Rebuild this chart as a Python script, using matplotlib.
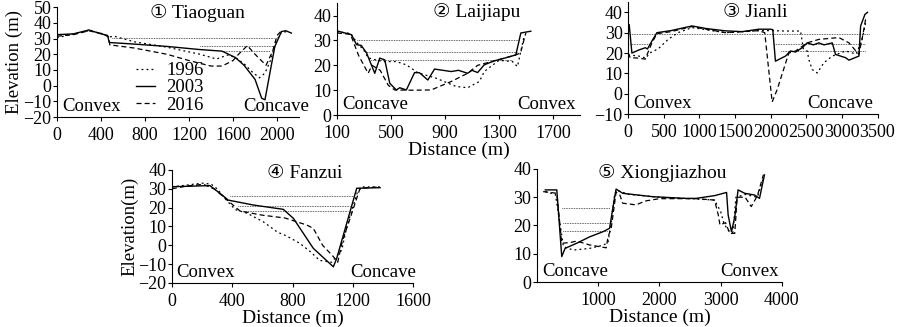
import matplotlib
matplotlib.use("Agg")
import matplotlib.pyplot as plt
import numpy as np

plt.rcParams["font.family"] = ["Liberation Serif", "DejaVu Sans"]
plt.rcParams["font.size"] = 13.5

# ---- data ----
years = ["1996", "2003", "2016"]

# 1 Tiaoguan
tiao_x96 = [0, 150, 290, 420, 470, 520, 700, 1000, 1300, 1450, 1550, 1620, 1700, 1770, 1840, 1890, 1940, 1990, 2040, 2100]
tiao_y96 = [30.5, 33, 35, 33, 31, 31.5, 28, 24.5, 20, 17, 19.5, 18, 14, 9, 5, 8, 16, 28, 34, 34.5]
tiao_x03 = [0, 150, 290, 400, 460, 475, 700, 1000, 1300, 1500, 1620, 1700, 1800, 1860, 1890, 1940, 1980, 2040, 2080, 2130]
tiao_y03 = [32.5, 33, 35.5, 33, 32, 27.5, 26.5, 25, 23, 22, 18, 13, 4, -8, -9, 10, 25, 34.5, 35, 33.5]
tiao_x16 = [0, 150, 290, 420, 470, 480, 700, 1000, 1200, 1400, 1500, 1600, 1650, 1730, 1800, 1900, 1960, 2000, 2040]
tiao_y16 = [31.5, 32.5, 35, 33, 31, 26, 24, 20, 16, 12.5, 12.5, 16, 20, 25.5, 20, 13, 22, 32, 35]
tiao_wl = [30.5, 25.5, 22]
tiao_wl_from = [500, 1300, 1500]
tiao_wl_to = [1970, 1970, 1940]

# 2 Laijiapu
lai_x96 = [100, 200, 250, 300, 331, 400, 454, 540, 614, 700, 835, 983, 1068, 1155, 1191, 1300, 1400, 1437, 1486]
lai_y96 = [33.5, 32.8, 29, 26, 23, 22, 21.5, 21.5, 20.2, 17, 14.8, 11.5, 11, 13.5, 17.5, 22, 21.5, 19.5, 31.6]
lai_x03 = [110, 208, 245, 280, 319, 380, 417, 454, 491, 540, 565, 614, 675, 712, 773, 823, 946, 1000, 1068, 1100,
           1142, 1191, 1265, 1363, 1425, 1462, 1536]
lai_y03 = [33.7, 32.3, 28.3, 28, 25, 16.8, 22.9, 22.2, 12.8, 10.1, 11, 10.1, 17.1, 17, 14.1, 18.5, 17.5, 18, 16.8, 18,
           17.1, 20.2, 21.8, 23.2, 24.2, 33, 33.7]
lai_x16 = [100, 200, 260, 331, 360, 420, 480, 528, 650, 798, 946, 1068, 1142, 1314, 1425, 1460, 1499]
lai_y16 = [33, 32.5, 24, 16.8, 20, 18, 12, 10.1, 10, 10.1, 13.5, 16.8, 20, 22.5, 24.2, 25, 33]
lai_wl = [30.3, 25.2, 22.2]
lai_wl_from = [245, 306, 350]
lai_wl_to = [1450, 1430, 1400]

# 3 Jianli
jian_x96 = [0, 30, 150, 250, 300, 420, 560, 700, 895, 1364, 1833, 1997, 2208, 2419, 2460, 2513, 2536, 2583, 2654,
            2747, 2865, 3052, 3200, 3280, 3340]
jian_y96 = [19, 19, 18.5, 17.5, 20, 22, 26.7, 30, 32.5, 30, 31, 31, 30.8, 30.8, 22, 21, 16.8, 11.9, 10.2,
            15.2, 18.5, 21, 19.5, 26, 36]
jian_x03 = [0, 14, 52, 150, 239, 270, 333, 403, 600, 895, 1100, 1364, 1600, 1833, 1997, 2030, 2067, 2208, 2278,
            2350, 2443, 2513, 2600, 2677, 2750, 2865, 2911, 3052, 3099, 3239, 3263, 3324, 3360]
jian_y03 = [30, 34, 20, 21.5, 22.6, 22, 25.9, 30, 31, 33.3, 32, 30.9, 30.5, 31.7, 31.7, 31.5, 16, 18.5, 21,
            20.5, 22.6, 25, 24, 25, 24, 25, 19.3, 17.7, 16.5, 18.5, 33.3, 39, 40]
jian_x16 = [0, 28, 150, 239, 286, 333, 403, 600, 895, 1364, 1833, 1917, 2021, 2091, 2255, 2350, 2513, 2677, 2958,
            3099, 3239, 3300, 3340]
jian_y16 = [20, 17.7, 17.5, 17, 21, 25, 29.5, 30.5, 33, 30, 31, 30, -4, 2, 20, 21, 25, 26.7, 27.6,
            25, 19.3, 30, 38]
jian_wl = [29.2, 24.3, 24.3, 21]
jian_wl_from = [30, 30, 2050, 2150]
jian_wl_to = [3400, 310, 3330, 3330]

# 4 Fanzui
fan_x96 = [0, 200, 260, 300, 350, 420, 500, 606, 700, 760, 850, 920, 980, 1060, 1127, 1160, 1195, 1230, 1260, 1380]
fan_y96 = [31, 33, 32.5, 30, 25, 19, 17, 12.5, 7, 5, 1, -3.5, -8, -9, -2.5, 10, 19, 28, 31, 31]
fan_x03 = [0, 252, 319, 374, 540, 739, 806, 938, 1071, 1093, 1226, 1381]
fan_y03 = [31.1, 31.7, 27.6, 24, 21.4, 19.1, 14.3, -1.6, -11.4, -7, 30.3, 30.6]
fan_x16 = [0, 100, 208, 280, 341, 452, 600, 750, 894, 938, 1000, 1071, 1100, 1130, 1182, 1248, 1380]
fan_y16 = [30, 31.5, 32.4, 30, 25.8, 18.2, 16, 14.5, 10.8, 9, 0, -6, -9, 2, 14.3, 30.3, 31]
fan_wl = [26.3, 21, 18.2]
fan_wl_from = [385, 440, 460]
fan_wl_to = [1215, 1180, 1170]

# 5 Xiongjiazhou
xiong_x96 = [135, 300, 380, 431, 593, 861, 1077, 1160, 1212, 1260, 1292, 1500, 2000, 2500, 2900, 3000, 3050, 3100,
             3140, 3200, 3250, 3400, 3600, 3700]
xiong_y96 = [32, 31, 20, 12.5, 11.3, 11.9, 13, 14, 21.2, 30, 32.5, 31, 30, 29.5, 29, 25, 21, 19,
             18, 17.5, 30, 31, 30, 37]
xiong_x03 = [135, 323, 404, 458, 646, 861, 1077, 1185, 1265, 1292, 1400, 1885, 2423, 2600, 2908, 3097, 3123, 3177,
             3231, 3285, 3393, 3554, 3635, 3716]
xiong_y03 = [32.6, 32.6, 9, 11.9, 13.7, 16, 17.8, 19, 29.6, 32.9, 31.4, 30.2, 29.6, 29.6, 30.6, 31.7, 23.7, 17.8,
             23, 32.6, 31.4, 30.8, 29.6, 37.9]
xiong_x16 = [100, 323, 404, 550, 650, 861, 1131, 1160, 1212, 1292, 1350, 1400, 1615, 1777, 2000, 2600, 2900, 2962,
             2989, 3080, 3150, 3231, 3270, 3400, 3500, 3600, 3700]
xiong_y16 = [32, 31.4, 13.7, 14, 14.5, 13.1, 12.1, 16, 19, 31.8, 31, 27.9, 27.3, 28.7, 29.5, 29.5, 29, 23.7,
             20.2, 21, 17.2, 17.2, 30, 30, 26.7, 30.5, 38]
xiong_wl = [26.1, 20.8, 18]
xiong_wl_from = [404, 430, 430]
xiong_wl_to = [1185, 1180, 1165]

# ---- figure ----
fig = plt.figure(figsize=(9, 3.27), dpi=100)

panels = [
    dict(rect=[0.0633, 0.642, 0.269, 0.336], title="\u2460 Tiaoguan", tpos=(0.58, 0.95),
         lines=[(tiao_x96, tiao_y96), (tiao_x03, tiao_y03), (tiao_x16, tiao_y16)],
         wl=(tiao_wl, tiao_wl_from, tiao_wl_to),
         xlim=(0, 2200), ylim=(-20, 50), xt=np.arange(0, 2001, 400), yt=np.arange(-20, 51, 10),
         left="Convex", right="Concave", rx=0.77, xlabel=None, ylabel="Elevation (m)"),
    dict(rect=[0.3744, 0.648, 0.27, 0.3425], title="\u2461 Laijiapu", tpos=(0.576, 0.92),
         lines=[(lai_x96, lai_y96), (lai_x03, lai_y03), (lai_x16, lai_y16)],
         wl=(lai_wl, lai_wl_from, lai_wl_to),
         xlim=(100, 1900), ylim=(0, 45), xt=np.arange(100, 1701, 400), yt=np.arange(0, 41, 10),
         left="Concave", right="Convex", rx=0.74, xlabel="Distance (m)", ylabel=None),
    dict(rect=[0.698, 0.651, 0.277, 0.3425], title="\u2462 Jianli", tpos=(0.51, 0.91),
         lines=[(jian_x96, jian_y96), (jian_x03, jian_y03), (jian_x16, jian_y16)],
         wl=(jian_wl, jian_wl_from, jian_wl_to),
         xlim=(0, 3500), ylim=(-10, 45), xt=np.arange(0, 3501, 500), yt=np.arange(-10, 41, 10),
         left="Convex", right="Concave", rx=0.72, xlabel=None, ylabel=None),
    dict(rect=[0.191, 0.1346, 0.268, 0.3456], title="\u2463 Fanzui", tpos=(0.55, 0.97),
         lines=[(fan_x96, fan_y96), (fan_x03, fan_y03), (fan_x16, fan_y16)],
         wl=(fan_wl, fan_wl_from, fan_wl_to),
         xlim=(0, 1600), ylim=(-20, 40), xt=np.arange(0, 1601, 400), yt=np.arange(-20, 41, 10),
         left="Convex", right="Concave", rx=0.74, xlabel="Distance (m)", ylabel="Elevation(m)"),
    dict(rect=[0.5967, 0.1376, 0.272, 0.3456], title="\u2464 Xiongjiazhou", tpos=(0.51, 0.965),
         lines=[(xiong_x96, xiong_y96), (xiong_x03, xiong_y03), (xiong_x16, xiong_y16)],
         wl=(xiong_wl, xiong_wl_from, xiong_wl_to),
         xlim=(0, 4000), ylim=(0, 40), xt=np.arange(1000, 4001, 1000), yt=np.arange(0, 41, 10),
         left="Concave", right="Convex", rx=0.75, xlabel="Distance (m)", ylabel=None),
]

styles = [dict(ls=(0, (1.5, 2.5)), lw=0.9), dict(ls="-", lw=1.0), dict(ls=(0, (4, 2.5)), lw=0.9)]

for i, p in enumerate(panels):
    ax = fig.add_axes(p["rect"])
    for (xs, ys), st, yr in zip(p["lines"], styles, years):
        ax.plot(xs, ys, color="black", linestyle=st["ls"], linewidth=st["lw"], label=yr)
    # water levels
    for lev, x0, x1 in zip(*p["wl"]):
        ax.plot([x0, x1], [lev, lev], color="black", linestyle=(0, (0.8, 1.2)), linewidth=0.6)
    ax.set_xlim(*p["xlim"])
    ax.set_ylim(*p["ylim"])
    ax.set_xticks(p["xt"])
    ax.set_yticks(p["yt"])
    ax.tick_params(direction="out", length=3, width=0.8, labelsize=13, pad=1)
    ax.tick_params(axis="x", pad=4)
    ax.spines["top"].set_visible(False)
    ax.spines["right"].set_visible(False)
    ax.text(p["tpos"][0], p["tpos"][1], p["title"], transform=ax.transAxes, ha="center", va="center",
            fontsize=14, family=["Liberation Serif", "DejaVu Sans"])
    ax.text(0.02, 0.02, p["left"], transform=ax.transAxes, ha="left", va="bottom", fontsize=13.5)
    ax.text(p["rx"], 0.02, p["right"], transform=ax.transAxes, ha="left", va="bottom", fontsize=13.5,
            clip_on=False)
    if p["xlabel"]:
        ax.set_xlabel(p["xlabel"], fontsize=14, labelpad=0)
    if p["ylabel"]:
        ax.set_ylabel(p["ylabel"], fontsize=13.5, labelpad=0)
    if i == 0:
        ax.legend(loc="lower left", bbox_to_anchor=(0.28, -0.07), frameon=False, fontsize=13.5,
                  handlelength=1.0, handletextpad=0.6, labelspacing=0.0, borderpad=0.1)

fig.savefig("out.png", dpi=100)
